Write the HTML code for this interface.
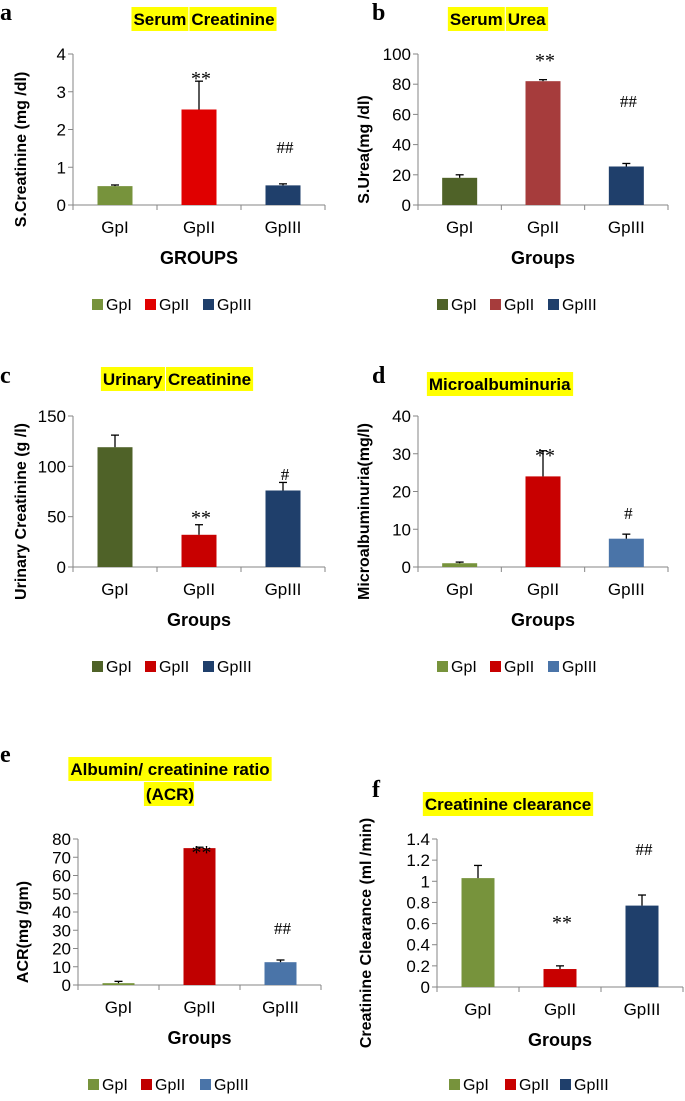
<!DOCTYPE html>
<html><head><meta charset="utf-8"><style>
html,body{margin:0;padding:0;background:#fff;}
svg{display:block;font-family:"Liberation Sans",sans-serif;}
</style></head><body>
<svg id="fig" width="685" height="1101" viewBox="0 0 685 1101"></svg>
<script>
const groupNames = ["GpI","GpII","GpIII"];
const tickLabelsA = ["0","1","2","3","4"];
const valuesA = [0.5, 2.53, 0.52];
const errorsA = [0.03, 0.75, 0.04];
const tickLabelsB = ["0","20","40","60","80","100"];
const valuesB = [18, 82, 25.5];
const errorsB = [2, 1, 2];
const tickLabelsC = ["0","50","100","150"];
const valuesC = [119, 32, 76];
const errorsC = [12, 10, 8];
const tickLabelsD = ["0","10","20","30","40"];
const valuesD = [1, 24, 7.5];
const errorsD = [0.3, 6.8, 1.2];
const tickLabelsE = ["0","10","20","30","40","50","60","70","80"];
const valuesE = [1, 75, 12.5];
const errorsE = [1, 0.5, 1.2];
const tickLabelsF = ["0","0.2","0.4","0.6","0.8","1","1.2","1.4"];
const valuesF = [1.03, 0.17, 0.77];
const errorsF = [0.12, 0.03, 0.1];
const marksA = ["", "**", "##"];
const marksB = ["", "**", "##"];
const marksC = ["", "**", "#"];
const marksD = ["", "**", "#"];
const marksE = ["", "**", "##"];
const marksF = ["", "**", "##"];
// data-unit anchor heights of the significance marks
const markLevelA = [0, 3.44, 1.54];
const markLevelB = [0, 98, 69];
const markLevelC = [0, 52.6, 92.4];
const markLevelD = [0, 30.5, 14.3];
const markLevelE = [0, 74.5, 31.2];
const markLevelF = [0, 0.643, 1.305];

const NS="http://www.w3.org/2000/svg";
const svg=document.getElementById('fig');
function mk(tag,attrs,parent){const e=document.createElementNS(NS,tag);for(const k in attrs)e.setAttribute(k,attrs[k]);(parent||svg).appendChild(e);return e;}

const panels=[
 {id:'a',letter:'a',lx:0,ly:20,title:['Serum','Creatinine'],tx:204,ty:18,ax:73,ax2:325,y0:205,y1:54,ticks:tickLabelsA,vals:valuesA,errs:errorsA,marks:marksA,mlev:markLevelA,ytitle:'S.Creatinine (mg /dl)',ytx:20,xtitle:'GROUPS',colors:['#77933C','#E00000','#1F3F6B'],bw:35,legY:310,legX:[92,145,203]},
 {id:'b',letter:'b',lx:372,ly:20,title:['Serum','Urea'],tx:498,ty:18,ax:418,ax2:668,y0:205,y1:54,ticks:tickLabelsB,vals:valuesB,errs:errorsB,marks:marksB,mlev:markLevelB,ytitle:'S.Urea(mg /dl)',ytx:363,xtitle:'Groups',colors:['#4F6228','#A63C3C','#1F3F6B'],bw:35,legY:310,legX:[437,490,548]},
 {id:'c',letter:'c',lx:0,ly:383,title:['Urinary','Creatinine'],tx:177,ty:378,ax:73,ax2:325,y0:567,y1:416,ticks:tickLabelsC,vals:valuesC,errs:errorsC,marks:marksC,mlev:markLevelC,ytitle:'Urinary Creatinine (g /l)',ytx:20,xtitle:'Groups',colors:['#4F6228','#C80000','#1F3F6B'],bw:35,legY:672,legX:[92,145,203]},
 {id:'d',letter:'d',lx:372,ly:383,title:['Microalbuminuria'],tx:500,ty:383,ax:418,ax2:668,y0:567,y1:416,ticks:tickLabelsD,vals:valuesD,errs:errorsD,marks:marksD,mlev:markLevelD,ytitle:'Microalbuminuria(mg/l)',ytx:363,xtitle:'Groups',colors:['#77933C','#C80000','#4A74A8'],bw:35,legY:672,legX:[437,490,548]},
 {id:'e',letter:'e',lx:0,ly:762,title:['Albumin/ creatinine ratio'],title2:'(ACR)',tx:170,ty:768,ax:78,ax2:321,y0:985,y1:839,ticks:tickLabelsE,vals:valuesE,errs:errorsE,marks:marksE,mlev:markLevelE,ytitle:'ACR(mg /gm)',ytx:22,xtitle:'Groups',colors:['#77933C','#C00000','#4A74A8'],bw:32,legY:1090,legX:[88,141,200]},
 {id:'f',letter:'f',lx:372,ly:797,title:['Creatinine clearance'],tx:508,ty:803,ax:437,ax2:683,y0:987,y1:839,ticks:tickLabelsF,vals:valuesF,errs:errorsF,marks:marksF,mlev:markLevelF,ytitle:'Creatinine Clearance (ml /min)',ytx:365,xtitle:'Groups',colors:['#77933C','#C80000','#1F3F6B'],bw:33,legY:1090,legX:[449,505,560]}
];

panels.forEach(p=>{
 const g=mk('g',{});
 
 
 const L=mk('text',{x:p.lx,y:p.ly,'font-family':'Liberation Serif, serif','font-weight':'bold','font-size':24},g);
 L.textContent=p.letter;
 
 
 const tg=mk('g',{},g);
 
 
 const words=p.title;
 const fs=17;
 let widths=words.map(w=>{const t=mk('text',{'font-size':fs,'font-weight':'bold'},tg);t.textContent=w;const bw=t.getBBox().width;tg.removeChild(t);return bw;});
 const gap=5;const total=widths.reduce((a,b)=>a+b,0)+gap*(words.length-1);
 let cx=p.tx-total/2;
 words.forEach((w,i)=>{
  mk('rect',{x:cx-2,y:p.ty-11,width:widths[i]+4,height:24,fill:'#FFFF00'},tg);
  const t=mk('text',{x:cx,y:p.ty+7,'font-size':fs,'font-weight':'bold'},tg);t.textContent=w;
  cx+=widths[i]+gap;
 });
 if(p.title2){
  const t=mk('text',{'font-size':fs,'font-weight':'bold'},tg);t.textContent=p.title2;const w2=t.getBBox().width;tg.removeChild(t);
  mk('rect',{x:p.tx-w2/2-2,y:p.ty+14,width:w2+2,height:24,fill:'#FFFF00'},tg);
  const t2=mk('text',{x:p.tx,y:p.ty+32,'font-size':fs,'font-weight':'bold','text-anchor':'middle'},tg);t2.textContent=p.title2;
 }
 const n=p.ticks.length-1;
 const ymax=parseFloat(p.ticks[n]);
 const yS=v=>p.y0-(v/ymax)*(p.y0-p.y1);
 const ya=mk('line',{x1:p.ax,y1:p.y1,x2:p.ax,y2:p.y0,stroke:'#868686','stroke-width':1},g);
 
 const xa=mk('line',{x1:p.ax,y1:p.y0,x2:p.ax2,y2:p.y0,stroke:'#868686','stroke-width':1},g);
 
 p.ticks.forEach(tl=>{
  const v=parseFloat(tl);const y=yS(v);
  mk('line',{x1:p.ax-5,y1:y,x2:p.ax,y2:y,stroke:'#868686'},g);
  const t=mk('text',{x:p.ax-7,y:y+6,'font-size':17,'text-anchor':'end'},g);t.textContent=tl;
  
 });
 const step=(p.ax2-p.ax)/3;
 for(let i=0;i<=3;i++){mk('line',{x1:p.ax+step*i,y1:p.y0,x2:p.ax+step*i,y2:p.y0+5,stroke:'#868686'},g);}
 p.vals.forEach((v,i)=>{
  const cx=p.ax+step*(i+0.5);const y=yS(v);
  const r=mk('rect',{x:cx-p.bw/2,y:y,width:p.bw,height:p.y0-y,fill:p.colors[i]},g);
  
  
  const ye=yS(v+p.errs[i]);
  mk('line',{x1:cx,y1:y,x2:cx,y2:ye,stroke:'#000','stroke-width':1.3},g);
  mk('line',{x1:cx-4,y1:ye,x2:cx+4,y2:ye,stroke:'#000','stroke-width':1.3},g);
  if(p.marks[i]){
   const my=yS(p.mlev[i]);
   const isStar=p.marks[i][0]==='*';
   const t=mk('text',{x:cx+2,y:my+(isStar?10:6),'font-size':isStar?20:17,'text-anchor':'middle','font-family':'Liberation Serif, serif'},g);
   t.textContent=p.marks[i];
   
  }
  const cl=mk('text',{x:cx,y:p.y0+28,'font-size':17,'text-anchor':'middle'},g);cl.textContent=groupNames[i];
  
 });
 const xt=mk('text',{x:(p.ax+p.ax2)/2,y:p.y0+59,'font-size':18,'font-weight':'bold','text-anchor':'middle'},g);xt.textContent=p.xtitle;
 
 const yt=mk('text',{x:0,y:0,'font-size':16,'font-weight':'bold','text-anchor':'middle',transform:`translate(${p.ytx+6},${(p.y0+p.y1)/2+20}) rotate(-90)`},g);yt.textContent=p.ytitle;
 
 groupNames.forEach((nm,i)=>{
  const lg=mk('g',{},g);
  
  
  mk('rect',{x:p.legX[i],y:p.legY-11,width:11,height:11,fill:p.colors[i]},lg);
  const t=mk('text',{x:p.legX[i]+14,y:p.legY,'font-size':16},lg);t.textContent=nm;
 });
});
</script>
</body></html>
